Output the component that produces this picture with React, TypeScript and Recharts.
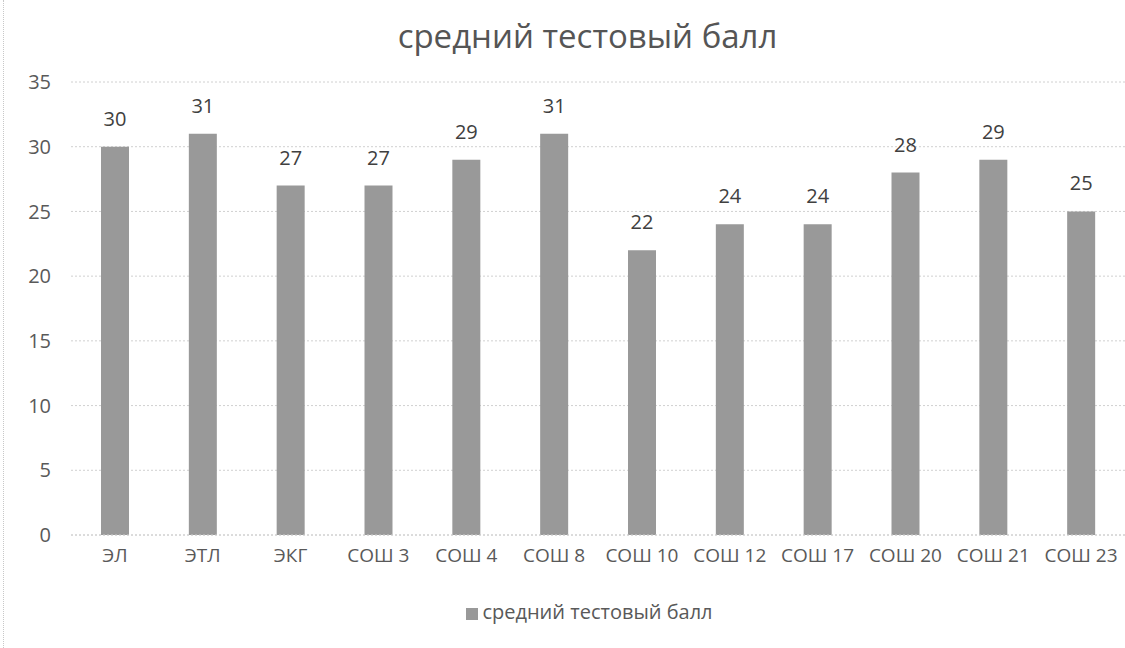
import React from 'react';
import { BarChart, Bar, XAxis, YAxis, CartesianGrid, LabelList, Legend } from 'recharts';

const categories = ['ЭЛ', 'ЭТЛ', 'ЭКГ', 'СОШ 3', 'СОШ 4', 'СОШ 8', 'СОШ 10', 'СОШ 12', 'СОШ 17', 'СОШ 20', 'СОШ 21', 'СОШ 23'];
const scores = [30, 31, 27, 27, 29, 31, 22, 24, 24, 28, 29, 25];
const yTicks = [0, 5, 10, 15, 20, 25, 30, 35];
const seriesName = 'средний тестовый балл';
const title = 'средний тестовый балл';

const data = categories.map((c, i) => ({ name: c, value: scores[i] }));

const FONT = '"Open Sans", sans-serif';

export default function App() {
  return (
    <div style={{ position: 'absolute', left: 0, top: 0, width: 1125, height: 648, background: '#fff', fontFamily: FONT }}>
      <div style={{ position: 'absolute', left: 3, top: 0, width: 0, height: 648, borderLeft: '1px dotted #c8c8c8' }} />
      <div style={{ position: 'absolute', top: 14, left: 25, width: 1125, textAlign: 'center', fontSize: 33, lineHeight: '44px', color: '#555' }}>{title}</div>
      <BarChart width={1125} height={648} data={data} margin={{ top: 82, right: 0, bottom: 0, left: 0 }} barSize={28}>
        <CartesianGrid vertical={false} stroke="#d0d0d0" strokeDasharray="2 2" />
        <XAxis dataKey="name" tickLine={false} axisLine={{ stroke: '#d0d0d0', strokeDasharray: '2 2' }} tick={{ fill: '#595959', fontSize: 19, fontFamily: FONT }} tickMargin={8} interval={0} height={30} />
        <YAxis width={71} domain={[0, 35]} ticks={yTicks} tickLine={false} axisLine={false} tick={{ fill: '#595959', fontSize: 20, fontFamily: FONT }} tickSize={0} tickMargin={20} />
        <Legend verticalAlign="bottom" height={83} iconType="square" iconSize={12} wrapperStyle={{ top: 598, left: 32, fontSize: 20, fontFamily: FONT, color: '#595959' }} formatter={(v) => <span style={{ color: '#595959' }}>{v}</span>} />
        <Bar dataKey="value" name={seriesName} fill="#999999" isAnimationActive={false}>
          <LabelList dataKey="value" position="top" offset={21} style={{ fill: '#404040', fontSize: 20, fontFamily: FONT }} />
        </Bar>
      </BarChart>
    </div>
  );
}
